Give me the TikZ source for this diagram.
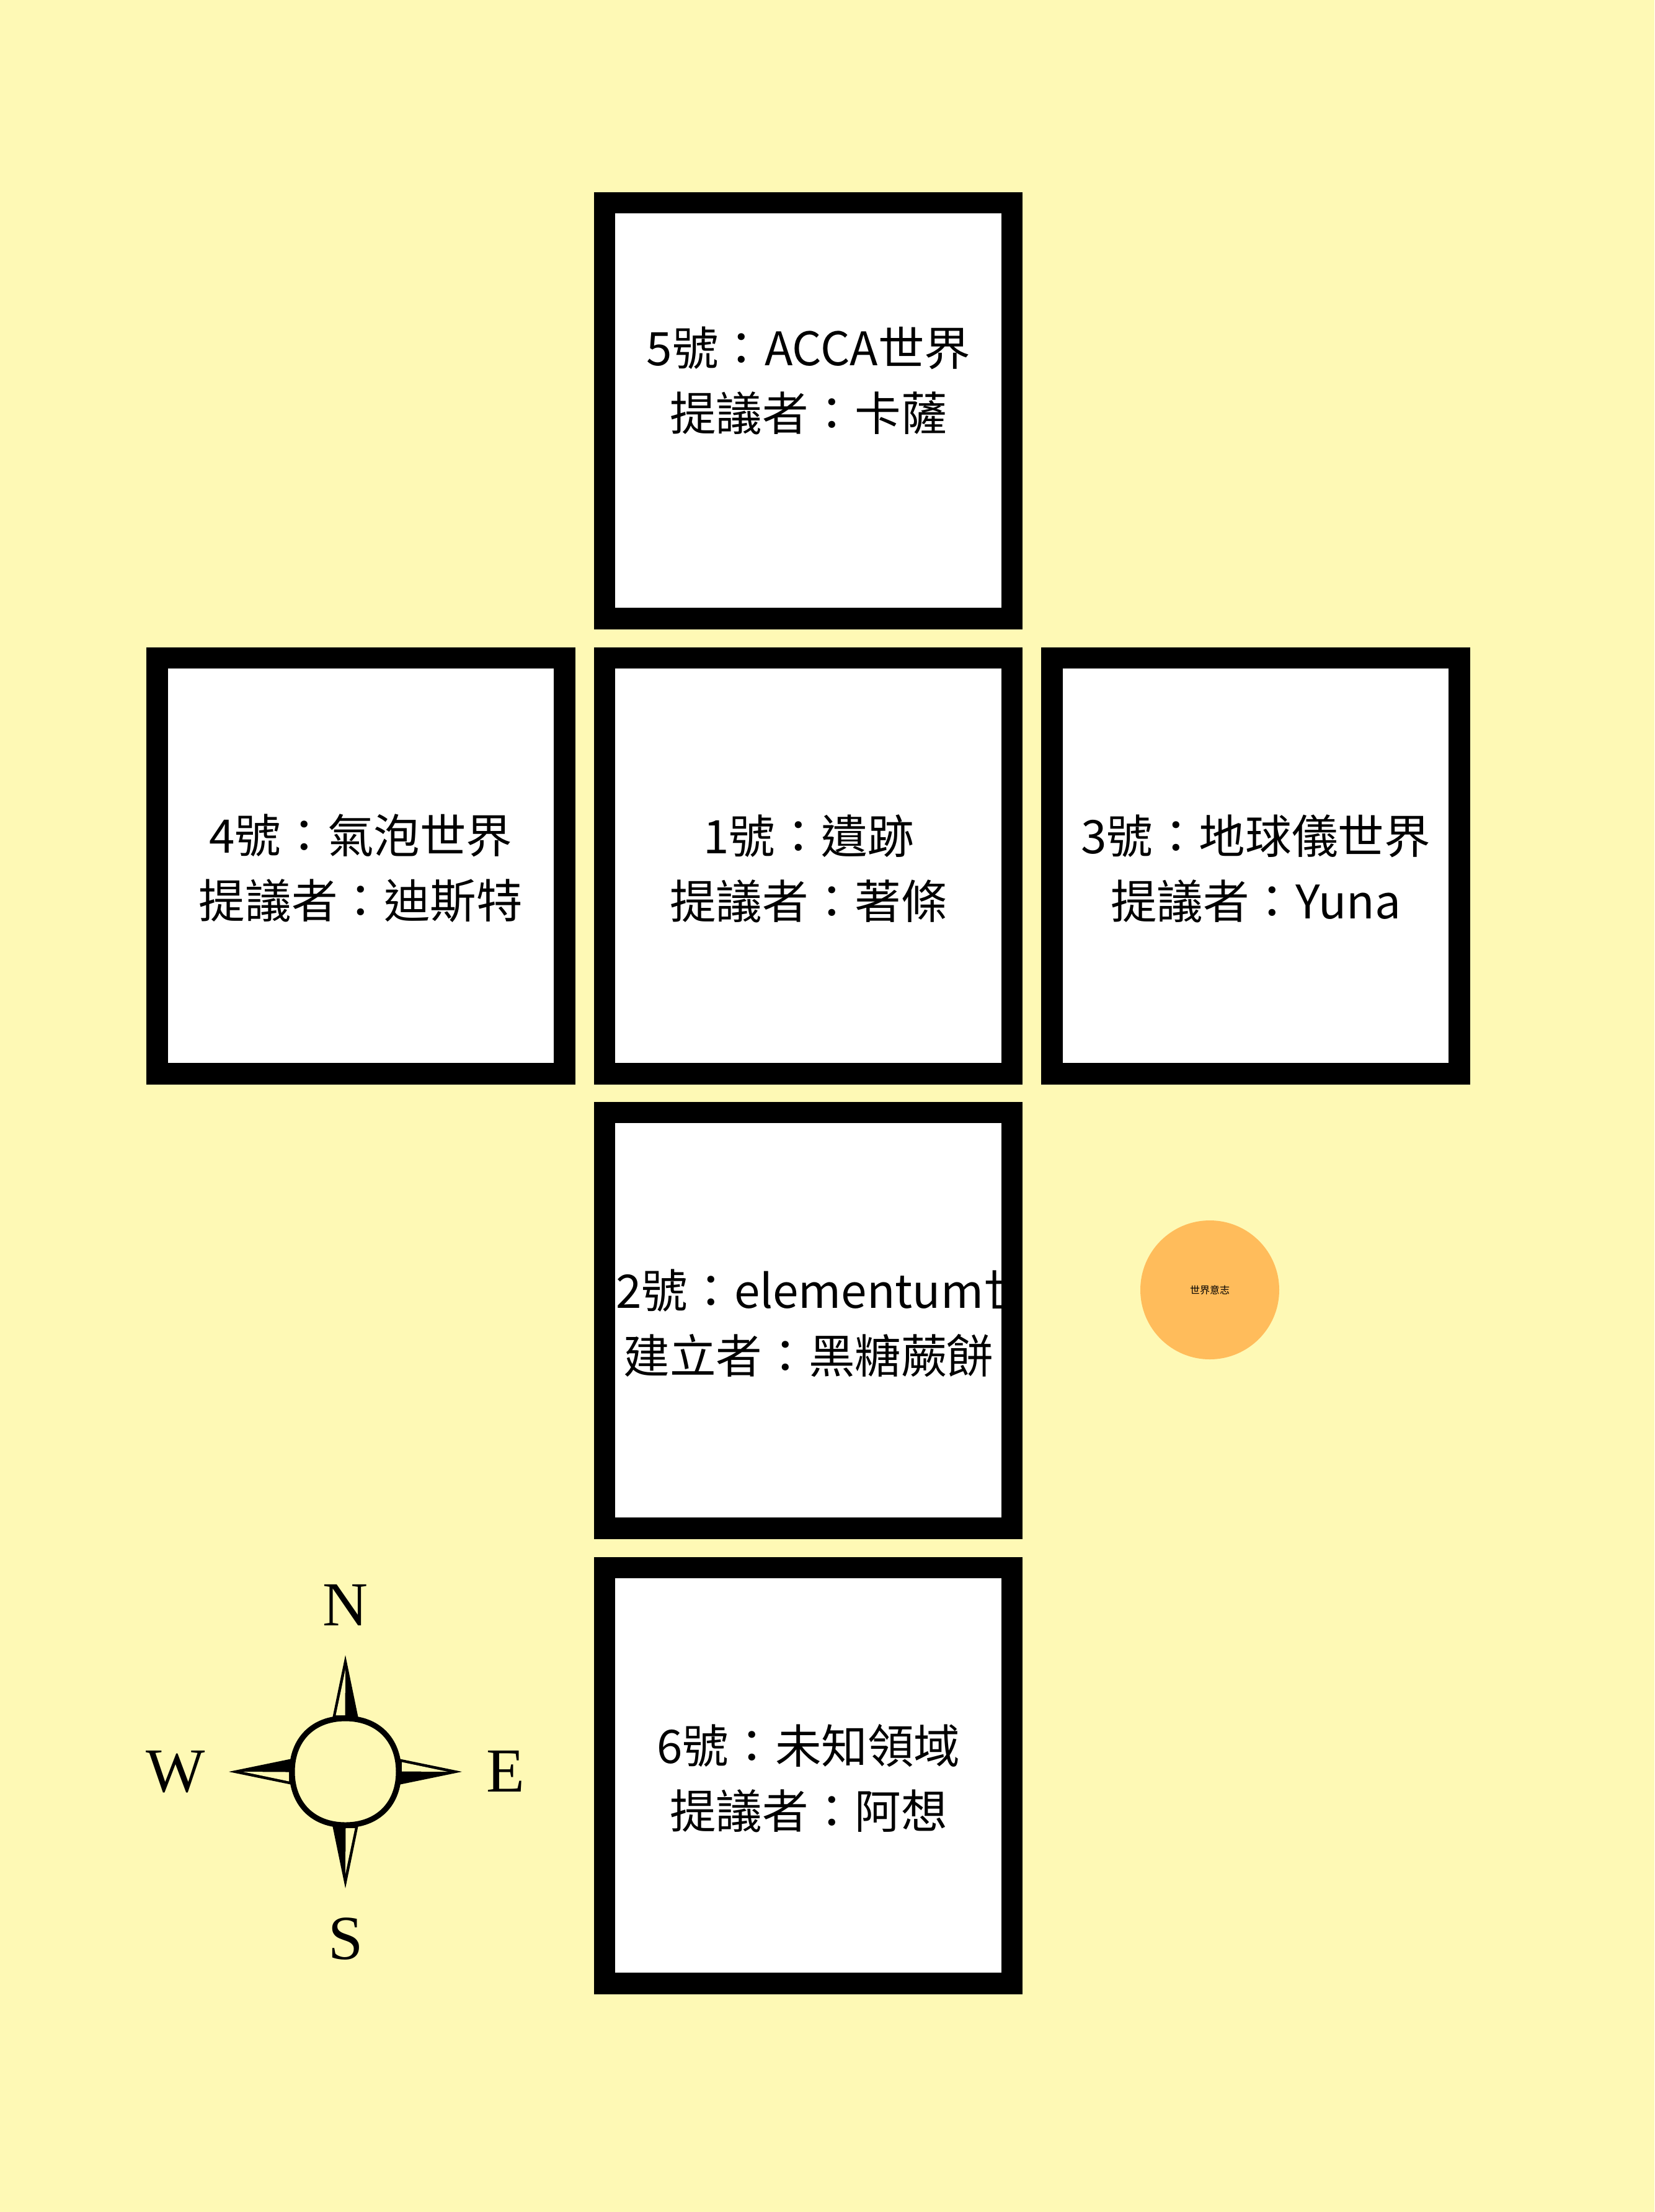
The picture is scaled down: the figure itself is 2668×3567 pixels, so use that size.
\documentclass[tikz,border=0pt]{standalone}
\usepackage{fontspec}
\setmainfont{Noto Sans CJK TC}
\newfontfamily\compassfont{Liberation Serif}
\usepackage{xcolor}
\definecolor{pagebg}{HTML}{FEF9B5}
\definecolor{willorange}{HTML}{FFBC5B}

\tikzset{
  worldbox/.style={draw=black, fill=white, line width=17.25pt, inner sep=0pt,
    minimum width=328.4pt, minimum height=335.25pt},
  worldtext/.style={font=\fontsize{37.3}{52.5}\selectfont, inner sep=0pt, align=center},
  compassletter/.style={font=\compassfont\fontsize{50.5}{50.5}\selectfont, inner sep=0pt},
}

\begin{document}
\begin{tikzpicture}[x=0.5pt,y=-0.5pt]

\useasboundingbox (0,0) rectangle (2668,3567);
\fill[pagebg] (0,0) rectangle (2668,3567);

\node[worldbox] (box5) at (1303.5,662) {};
\node[worldbox] (box4) at (582,1396) {};
\node[worldbox] (box1) at (1303.5,1396) {};
\node[worldbox] (box3) at (2025,1396) {};
\node[worldbox] (box2) at (1303.5,2129) {};
\node[worldbox] (box6) at (1303.5,2863) {};

\node[worldtext] (text5) at (1304,614) {5號：ACCA世界\\提議者：卡薩};
\node[worldtext] (text4) at (582,1400.5) {4號：氣泡世界\\提議者：迪斯特};
\node[worldtext] (text1) at (1304,1400.5) {1號：遺跡\\提議者：著條};
\node[worldtext] (text3) at (2025,1400.5) {3號：地球儀世界\\提議者：Yuna};
\node[worldtext] (text6) at (1304,2867.5) {6號：未知領域\\提議者：阿想};

%the long first line runs over the border
\begin{scope}
\clip (957.5,1777) rectangle (1648.5,2482);
\node[worldtext, anchor=base west] (text2top) at (993,2109) {2號：elementum世};
\node[worldtext, anchor=base] (text2bottom) at (1304,2214) {建立者：黑糖蕨餅};
\end{scope}

\node[circle, fill=willorange, minimum size=112pt, inner sep=0pt, font=\fontsize{8}{8}\selectfont] (will) at (1951,2080) {世界意志};

%for the compass
\coordinate (compass) at (557,2857);

\foreach \ang in {0,90,180,270}{
\begin{scope}[shift={(compass)}, rotate=-\ang]
\fill[black] (0,-188)--(21,-86)--(-21,-86)--cycle;
\fill[pagebg] (0,-165)--(-0.5,-91)--(-15.5,-91)--cycle;
\end{scope}
}

\draw[black, line width=4.5pt, fill=pagebg, shift={(compass)}] (86,0) .. controls (86,52) and (52,86) .. (0,86)
  .. controls (-52,86) and (-86,52) .. (-86,0)
  .. controls (-86,-52) and (-52,-86) .. (0,-86)
  .. controls (52,-86) and (86,-52) .. (86,0)--cycle;

\node[compassletter] (north) at (557,2588) {N};
\node[compassletter] (west) at (283,2857) {W};
\node[compassletter] (east) at (815,2856) {E};
\node[compassletter] (south) at (558,3127) {S};

\end{tikzpicture}
\end{document}
